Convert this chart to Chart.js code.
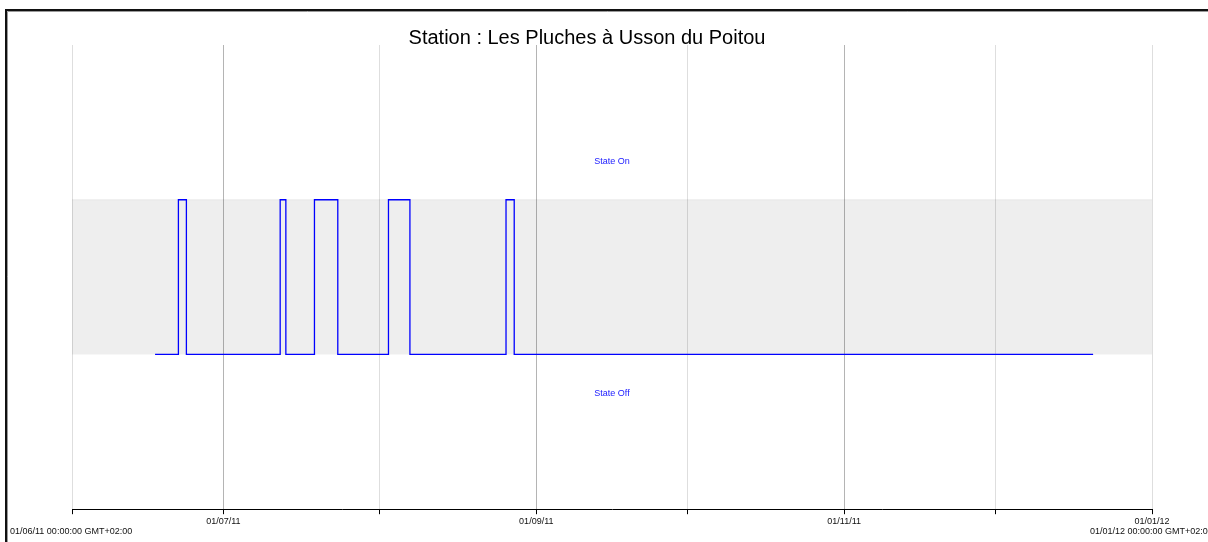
<!DOCTYPE html>
<html>
<head>
<meta charset="utf-8">
<title>Station : Les Pluches à Usson du Poitou</title>
<script src="https://cdn.jsdelivr.net/npm/chart.js@4.4.1/dist/chart.umd.min.js"></script>
<style>
  html, body { margin: 0; padding: 0; background: #fff; }
  #wrap { position: relative; width: 1208px; height: 542px; }
</style>
</head>
<body>
<div id="wrap"><canvas id="chart"></canvas></div>
<script>
// Etat de la station (0 = Off, 1 = On), changement d'état à chaque date
const stateTimes = [
  '2011-06-17T11:00Z', '2011-06-22T02:00Z', '2011-06-23T16:00Z',
  '2011-07-12T06:00Z', '2011-07-13T09:00Z', '2011-07-19T01:00Z',
  '2011-07-23T16:00Z', '2011-08-02T17:00Z', '2011-08-06T23:00Z',
  '2011-08-26T00:00Z', '2011-08-27T15:00Z', '2011-12-20T08:00Z'
];
const stateValues = [0, 1, 0, 1, 0, 1, 0, 1, 0, 1, 0, 0];

// bande grise entre State Off et State On
const bandTimes = ['2011-06-01T00:00Z', '2012-01-01T00:00Z'];
const bandValues = [1, 1];

// graduations mensuelles de l'axe des temps
const monthTicks = [
  '2011-06-01T00:00Z', '2011-07-01T00:00Z', '2011-08-01T00:00Z', '2011-09-01T00:00Z',
  '2011-10-01T00:00Z', '2011-11-01T00:00Z', '2011-12-01T00:00Z', '2012-01-01T00:00Z'
];
const tickLabels = ['', '01/07/11', '', '01/09/11', '', '01/11/11', '', '01/01/12'];
const majorTicks = [false, true, false, true, false, true, false, false];

const stateLabels = ['State On', 'State Off'];
const stateLabelValues = [1.25, -0.25];

const titleText = 'Station : Les Pluches à Usson du Poitou';
const startLabel = '01/06/11 00:00:00 GMT+02:00';
const endLabel = '01/01/12 00:00:00 GMT+02:00';

const t = function (s) { return Date.parse(s); };
const xMin = t(monthTicks[0]);
const xMax = t(monthTicks[monthTicks.length - 1]);

const FONT = '"Liberation Sans", Arial, sans-serif';

// cadre, titre et libellés "State On/Off" + dates de début/fin
const decorPlugin = {
  id: 'decor',
  beforeDraw: function (chart) {
    const ctx = chart.ctx;
    ctx.save();
    ctx.fillStyle = '#fff';
    ctx.fillRect(0, 0, chart.width, chart.height);
    ctx.strokeStyle = '#111';
    ctx.lineWidth = 2;
    ctx.beginPath();
    ctx.moveTo(6, chart.height);
    ctx.lineTo(6, 10);
    ctx.lineTo(chart.width, 10);
    ctx.stroke();
    ctx.strokeStyle = '#9a9a9a';
    ctx.lineWidth = 1;
    ctx.beginPath();
    ctx.moveTo(7.5, chart.height);
    ctx.lineTo(7.5, 11.5);
    ctx.lineTo(chart.width, 11.5);
    ctx.stroke();
    ctx.restore();
  },
  afterDraw: function (chart) {
    const ctx = chart.ctx;
    const xs = chart.scales.x;
    const ys = chart.scales.y;
    const area = chart.chartArea;
    ctx.save();
    ctx.fillStyle = '#000';
    ctx.font = '20px ' + FONT;
    ctx.textAlign = 'center';
    ctx.textBaseline = 'alphabetic';
    ctx.fillText(titleText, 587, 44);

    ctx.fillStyle = '#1a1aff';
    ctx.font = '9px ' + FONT;
    ctx.textBaseline = 'middle';
    const cx = (area.left + area.right) / 2;
    stateLabels.forEach(function (lab, i) {
      ctx.fillText(lab, cx, ys.getPixelForValue(stateLabelValues[i]));
    });

    ctx.fillStyle = '#111';
    ctx.textAlign = 'left';
    ctx.fillText(startLabel, xs.getPixelForValue(xMin) - 62, 532);
    ctx.fillText(endLabel, xs.getPixelForValue(xMax) - 62, 532);
    ctx.restore();
  }
};

new Chart(document.getElementById('chart'), {
  type: 'line',
  data: {
    datasets: [
      {
        label: 'state',
        data: stateTimes.map(function (s, i) { return { x: t(s), y: stateValues[i] }; }),
        stepped: 'before',
        borderColor: '#0000ff',
        borderWidth: 1.3,
        pointRadius: 0,
        fill: false,
        order: 1
      },
      {
        label: 'band',
        data: bandTimes.map(function (s, i) { return { x: t(s), y: bandValues[i] }; }),
        borderColor: 'rgba(0,0,0,0.06)',
        borderWidth: 1,
        // translucide : les lignes de grille restent visibles à travers la bande
        backgroundColor: 'rgba(0,0,0,0.068)',
        pointRadius: 0,
        fill: { value: 0 },
        order: 2
      }
    ]
  },
  options: {
    responsive: true,
    maintainAspectRatio: false,
    animation: false,
    events: [],
    layout: { padding: { left: 72, right: 56, top: 45, bottom: 13 } },
    plugins: {
      legend: { display: false },
      tooltip: { enabled: false },
      title: { display: false }
    },
    scales: {
      x: {
        type: 'linear',
        min: xMin,
        max: xMax,
        afterBuildTicks: function (scale) {
          scale.ticks = monthTicks.map(function (s) { return { value: t(s) }; });
        },
        ticks: {
          autoSkip: false,
          maxRotation: 0,
          padding: 2,
          color: '#111',
          font: { family: FONT, size: 9 },
          callback: function (v, i) { return tickLabels[i]; }
        },
        grid: {
          color: function (c) { return majorTicks[c.index] ? '#b4b4b4' : '#dedede'; },
          tickColor: '#000',
          tickLength: 5
        },
        border: { color: '#000', width: 1 }
      },
      y: {
        display: false,
        min: -1,
        max: 2
      }
    }
  },
  plugins: [decorPlugin]
});
</script>
</body>
</html>
